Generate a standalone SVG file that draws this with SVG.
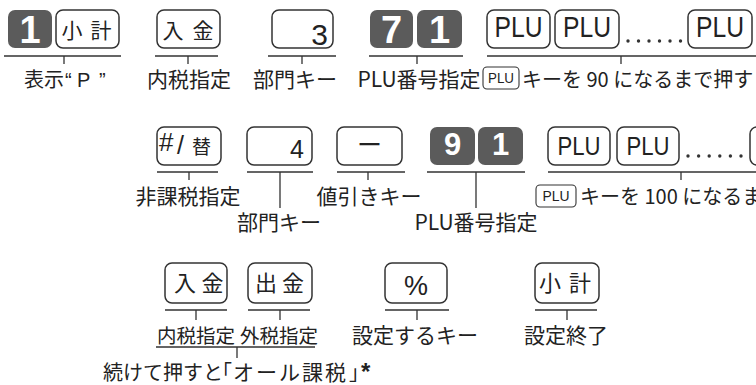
<svg xmlns="http://www.w3.org/2000/svg" width="756" height="385" viewBox="0 0 756 385">
<style>
.key{fill:#fff;stroke:#333;stroke-width:1.5}
.dk{fill:#5b5b5b}
.sk{fill:#fff;stroke:#333;stroke-width:1.1}
.ln{stroke:#333;stroke-width:1.3;fill:none}
.lb{font-family:"Noto Sans CJK JP",sans-serif;fill:#222}
.mid{text-anchor:middle}
.kj{font-family:"Noto Sans CJK JP",sans-serif;fill:#222;text-anchor:middle}
.num{font-family:"Liberation Sans",sans-serif;font-weight:bold;fill:#fff;text-anchor:middle}
.plu{font-family:"Liberation Sans",sans-serif;fill:#222;text-anchor:middle}
.dig{font-family:"Liberation Sans",sans-serif;fill:#222;text-anchor:end}
.dot{fill:#333}
</style>
<rect width="756" height="385" fill="#fff"/>

<!-- Row 1 -->
<g id="r1-key1"><rect class="dk" x="8" y="10" width="44" height="38" rx="7"/><text class="num" x="30" y="43" font-size="38">1</text></g>
<g id="r1-subtotal"><rect class="key" x="56" y="10" width="63" height="38" rx="7"/><text class="kj" x="72 101" y="37.5" font-size="21">小計</text></g>
<g id="r1-nyukin"><rect class="key" x="157" y="10" width="63" height="38" rx="7"/><text class="kj" x="173 203" y="37.5" font-size="21">入金</text></g>
<g id="r1-dept3"><rect class="key" x="272" y="10" width="61" height="38" rx="7"/><text class="dig" x="328" y="45" font-size="30">3</text></g>
<g id="r1-key7"><rect class="dk" x="370" y="10" width="43" height="38" rx="7"/><text class="num" x="391.5" y="43" font-size="38">7</text></g>
<g id="r1-key1b"><rect class="dk" x="417" y="10" width="45" height="38" rx="7"/><text class="num" x="439.5" y="43" font-size="38">1</text></g>
<g id="r1-plu1"><rect class="key" x="487" y="10" width="63" height="38" rx="7"/><text class="plu" x="518.5" y="37" font-size="30" textLength="48" lengthAdjust="spacingAndGlyphs">PLU</text></g>
<g id="r1-plu2"><rect class="key" x="555" y="10" width="64" height="38" rx="7"/><text class="plu" x="587" y="37" font-size="30" textLength="48" lengthAdjust="spacingAndGlyphs">PLU</text></g>
<g id="r1-dots"><circle class="dot" cx="628" cy="41" r="1.7"/><circle class="dot" cx="638.5" cy="41" r="1.7"/><circle class="dot" cx="649" cy="41" r="1.7"/><circle class="dot" cx="659.5" cy="41" r="1.7"/><circle class="dot" cx="670" cy="41" r="1.7"/><circle class="dot" cx="680.5" cy="41" r="1.7"/></g>
<g id="r1-plu3"><rect class="key" x="688" y="10" width="64" height="38" rx="7"/><text class="plu" x="720" y="37" font-size="30" textLength="48" lengthAdjust="spacingAndGlyphs">PLU</text></g>

<!-- Row 2 -->
<g id="r2-nontax"><rect class="key" x="157" y="127" width="64" height="38" rx="7"/><text font-family="Liberation Sans, sans-serif" font-size="26" fill="#222" x="159" y="151">#</text><text font-family="Liberation Sans, sans-serif" font-size="25" fill="#222" x="177" y="154">/</text><text font-family="Noto Sans CJK JP, sans-serif" font-size="19" fill="#222" x="192" y="154">替</text></g>
<g id="r2-dept4"><rect class="key" x="247" y="127" width="65" height="38" rx="7"/><text class="dig" x="304" y="158" font-size="25">4</text></g>
<g id="r2-minus"><rect class="key" x="337" y="127" width="65" height="38" rx="7"/><text class="kj" x="369.5" y="154" font-size="25">ー</text></g>
<g id="r2-key9"><rect class="dk" x="430" y="127" width="45" height="38" rx="7"/><text class="num" x="452.5" y="155" font-size="31">9</text></g>
<g id="r2-key1"><rect class="dk" x="478" y="127" width="45" height="38" rx="7"/><text class="num" x="500.5" y="155" font-size="31">1</text></g>
<g id="r2-plu1"><rect class="key" x="548" y="127" width="62" height="38" rx="7"/><text class="plu" x="579" y="155" font-size="25" textLength="43" lengthAdjust="spacingAndGlyphs">PLU</text></g>
<g id="r2-plu2"><rect class="key" x="617" y="127" width="62" height="38" rx="7"/><text class="plu" x="648" y="155" font-size="25" textLength="43" lengthAdjust="spacingAndGlyphs">PLU</text></g>
<g id="r2-dots"><circle class="dot" cx="688" cy="156" r="1.7"/><circle class="dot" cx="698.6" cy="156" r="1.7"/><circle class="dot" cx="709.2" cy="156" r="1.7"/><circle class="dot" cx="719.8" cy="156" r="1.7"/><circle class="dot" cx="730.4" cy="156" r="1.7"/><circle class="dot" cx="741" cy="156" r="1.7"/></g>
<g id="r2-plu3"><rect class="key" x="750" y="127" width="62" height="38" rx="7"/></g>

<!-- Row 3 -->
<g id="r3-nyukin"><rect class="key" x="165" y="263" width="62" height="40" rx="7"/><text class="kj" x="185 212.5" y="291" font-size="22">入金</text></g>
<g id="r3-shukkin"><rect class="key" x="248" y="263" width="64" height="40" rx="7"/><text class="kj" x="266 293" y="291" font-size="22">出金</text></g>
<g id="r3-percent"><rect class="key" x="385" y="263" width="62" height="40" rx="7"/><text class="plu" x="416" y="295" font-size="27">%</text></g>
<g id="r3-subtotal"><rect class="key" x="535" y="263" width="64" height="40" rx="7"/><text class="kj" x="550 580" y="291" font-size="22">小計</text></g>

<!-- Connectors -->
<g id="connectors">
<path class="ln" d="M4 56H121M64 56V64"/>
<path class="ln" d="M155 56H218M188 56V64"/>
<path class="ln" d="M268 56H336M302 56V64"/>
<path class="ln" d="M369 56H463M417 56V64"/>
<path class="ln" d="M487 56H756M621 56V64"/>
<path class="ln" d="M157 172H218M189 172V180"/>
<path class="ln" d="M247 172H313M280 172V208"/>
<path class="ln" d="M337 172H405M368 172V180"/>
<path class="ln" d="M427 172H525M476 172V208"/>
<path class="ln" d="M548 172H756M681 172V180"/>
<path class="ln" d="M165 310H227M196 310V320"/>
<path class="ln" d="M248 310H310M280 310V320"/>
<path class="ln" d="M385 310H449M417 310V320"/>
<path class="ln" d="M535 310H597M567 310V320"/>
<path class="ln" d="M156 347H315M237 347V358"/>
</g>

<!-- Labels -->
<g id="labels">
<text class="lb" x="24" y="87" font-size="20">表示<tspan font-family="Liberation Sans, sans-serif" x="65">“</tspan><tspan font-family="Liberation Sans, sans-serif" x="77">P</tspan><tspan font-family="Liberation Sans, sans-serif" x="99">”</tspan></text>
<text class="lb mid" x="189" y="87" font-size="21">内税指定</text>
<text class="lb mid" x="295" y="87" font-size="21">部門キー</text>
<text class="lb mid" x="419" y="87" font-size="21">PLU番号指定</text>
<g id="r1-small-plu"><rect class="sk" x="483" y="67" width="36" height="22" rx="4"/><text class="plu" x="501" y="83" font-size="14" textLength="26" lengthAdjust="spacingAndGlyphs">PLU</text></g>
<text class="lb" x="522" y="87" font-size="20">キーを 90 になるまで押す</text>

<text class="lb mid" x="188" y="204" font-size="21">非課税指定</text>
<text class="lb mid" x="369" y="204" font-size="21">値引きキー</text>
<g id="r2-small-plu"><rect class="sk" x="536" y="185" width="40" height="22" rx="4"/><text class="plu" x="556" y="201" font-size="14" textLength="27" lengthAdjust="spacingAndGlyphs">PLU</text></g>
<text class="lb" x="580" y="204" font-size="20">キーを 100 になるまで押す</text>
<text class="lb mid" x="279" y="230" font-size="21">部門キー</text>
<text class="lb mid" x="476" y="230" font-size="21">PLU番号指定</text>

<text class="lb mid" x="196" y="343" font-size="19.5">内税指定</text>
<text class="lb mid" x="279" y="343" font-size="19.5">外税指定</text>
<text class="lb mid" x="415" y="343" font-size="21">設定するキー</text>
<text class="lb mid" x="566" y="343" font-size="21">設定終了</text>
<text class="lb" x="103" y="380" font-size="20">続けて押すと<tspan x="212">「</tspan><tspan x="233" font-size="21" letter-spacing="2">オール課税</tspan><tspan x="349">」</tspan><tspan x="361" font-family="Liberation Sans, sans-serif" font-weight="bold" font-size="24">*</tspan></text>
</g>
</svg>
